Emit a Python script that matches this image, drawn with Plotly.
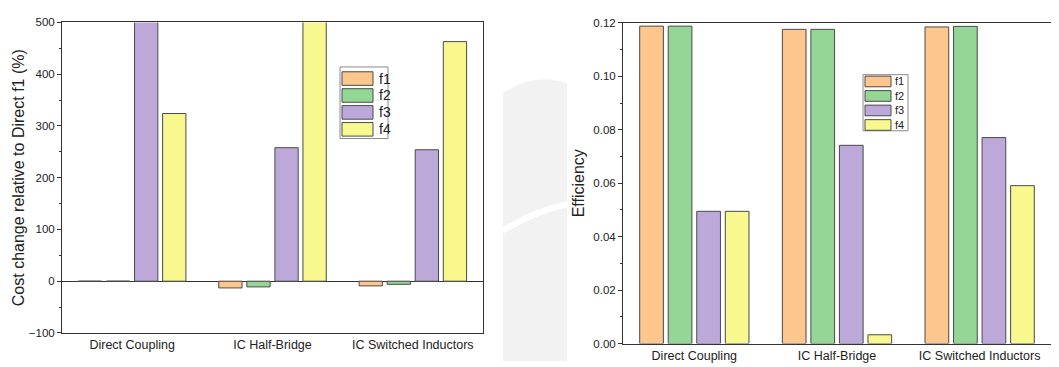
import plotly.graph_objects as go

# Converter topologies compared in both panels
categories = ["Direct Coupling", "IC Half-Bridge", "IC Switched Inductors"]
series_names = ["f1", "f2", "f3", "f4"]

# Cost change relative to Direct f1 (%)
cost_f1 = [0, -13, -9]
cost_f2 = [0, -11, -6]
cost_f3 = [655, 258, 254]
cost_f4 = [324, 720, 463]

# Efficiency
eff_f1 = [0.1188, 0.1176, 0.1185]
eff_f2 = [0.1188, 0.1176, 0.1187]
eff_f3 = [0.0495, 0.0742, 0.0771]
eff_f4 = [0.0495, 0.0033, 0.0591]

cost_ticks = [-100, 0, 100, 200, 300, 400, 500]
eff_ticks = [0.00, 0.02, 0.04, 0.06, 0.08, 0.10, 0.12]

colors = ["#FDC68C", "#93D696", "#BDA9D9", "#F8F88E"]
edge = "#4a4a4a"
axis_col = "#333333"
text_col = "#222222"
font_family = "Liberation Sans, Arial, sans-serif"

W, H = 1059, 367


def px_x(x):
    return x / W


def px_y(y):
    return 1 - y / H


fig = go.Figure()

cost_series = [cost_f1, cost_f2, cost_f3, cost_f4]
eff_series = [eff_f1, eff_f2, eff_f3, eff_f4]

for name, vals, col in zip(series_names, cost_series, colors):
    fig.add_trace(go.Bar(
        x=categories, y=vals, name=name, showlegend=False,
        marker=dict(color=col, line=dict(color=edge, width=1)),
        xaxis="x", yaxis="y",
    ))

for name, vals, col in zip(series_names, eff_series, colors):
    fig.add_trace(go.Bar(
        x=categories, y=vals, name=name, showlegend=False,
        marker=dict(color=col, line=dict(color=edge, width=1)),
        xaxis="x2", yaxis="y2",
    ))

tickfont_y = dict(family=font_family, size=11.5, color=text_col)
tickfont_x = dict(family=font_family, size=12.5, color=text_col)
title_font = dict(family=font_family, size=16, color=text_col)

shapes = [
    # faint background emblem between the panels
    dict(type="path", xref="paper", yref="paper", layer="below",
         path=(f"M {px_x(503)},0 L {px_x(503)},{px_y(90)} "
               f"Q {px_x(535)},{px_y(68)} {px_x(567)},{px_y(80)} "
               f"L {px_x(567)},0 Z"),
         fillcolor="#f2f2f2", line=dict(width=0)),
    dict(type="path", xref="paper", yref="paper", layer="below",
         path=f"M {px_x(503)},{px_y(232)} Q {px_x(535)},{px_y(212)} {px_x(567)},{px_y(205)}",
         line=dict(color="white", width=6)),
]
annotations = []


def add_key(x0, y0, box_w, box_h, sw_x0, sw_x1, sw_h, pitch, first_cy, text_x, fsize):
    """Boxed key: one coloured swatch and label per series."""
    shapes.append(dict(type="rect", xref="paper", yref="paper",
                       x0=px_x(x0), x1=px_x(x0 + box_w),
                       y0=px_y(y0 + box_h), y1=px_y(y0),
                       fillcolor="white", line=dict(color="#8a8a8a", width=1)))
    for i, (name, col) in enumerate(zip(series_names, colors)):
        cy = first_cy + i * pitch
        shapes.append(dict(type="rect", xref="paper", yref="paper",
                           x0=px_x(sw_x0), x1=px_x(sw_x1),
                           y0=px_y(cy + sw_h / 2), y1=px_y(cy - sw_h / 2),
                           fillcolor=col, line=dict(color=edge, width=1)))
        annotations.append(dict(xref="paper", yref="paper",
                                x=px_x(text_x), y=px_y(cy),
                                xanchor="left", yanchor="middle",
                                text=name, showarrow=False,
                                font=dict(family=font_family, size=fsize, color=text_col)))


add_key(340, 63, 48, 74, 342, 373, 14, 17.5, 75, 377, 14)
add_key(863, 71, 45, 58, 865, 891, 11, 15, 78, 893, 11)

fig.update_layout(
    width=W, height=H,
    margin=dict(l=0, r=0, t=0, b=0),
    paper_bgcolor="white",
    plot_bgcolor="rgba(0,0,0,0)",
    barmode="group",
    bargap=0.2,
    bargroupgap=0.17,
    showlegend=False,
    font=dict(family=font_family, color=text_col),
    xaxis=dict(
        domain=[px_x(62), px_x(483)],
        anchor="y",
        showline=True, linecolor=axis_col, linewidth=1, mirror=True,
        ticks="", tickfont=tickfont_x, showgrid=False,
    ),
    yaxis=dict(
        domain=[px_y(338), px_y(17)],
        anchor="x",
        range=[-100, 500],
        tickvals=cost_ticks,
        showline=True, linecolor=axis_col, linewidth=1, mirror=True,
        ticks="outside", ticklen=4, tickcolor=axis_col,
        minor=dict(dtick=50, ticks="outside", ticklen=2, tickcolor=axis_col, showgrid=False),
        zeroline=True, zerolinecolor=axis_col, zerolinewidth=1,
        showgrid=False, tickfont=tickfont_y,
        title=dict(text="Cost change relative to Direct f1 (%)", font=title_font, standoff=0),
    ),
    xaxis2=dict(
        domain=[px_x(623), px_x(1051)],
        anchor="y2",
        showline=True, linecolor=axis_col, linewidth=1, mirror=True,
        ticks="", tickfont=tickfont_x, showgrid=False,
    ),
    yaxis2=dict(
        domain=[px_y(349), px_y(17.5)],
        anchor="x2",
        range=[0, 0.12],
        tickvals=eff_ticks,
        tickformat=".2f",
        showline=True, linecolor=axis_col, linewidth=1, mirror=False,
        ticks="outside", ticklen=4, tickcolor=axis_col,
        minor=dict(dtick=0.01, ticks="outside", ticklen=2, tickcolor=axis_col, showgrid=False),
        zeroline=False, showgrid=False, tickfont=tickfont_y,
        title=dict(text="Efficiency", font=title_font, standoff=4),
    ),
    shapes=shapes,
    annotations=annotations,
)

fig.write_html("out.html")
